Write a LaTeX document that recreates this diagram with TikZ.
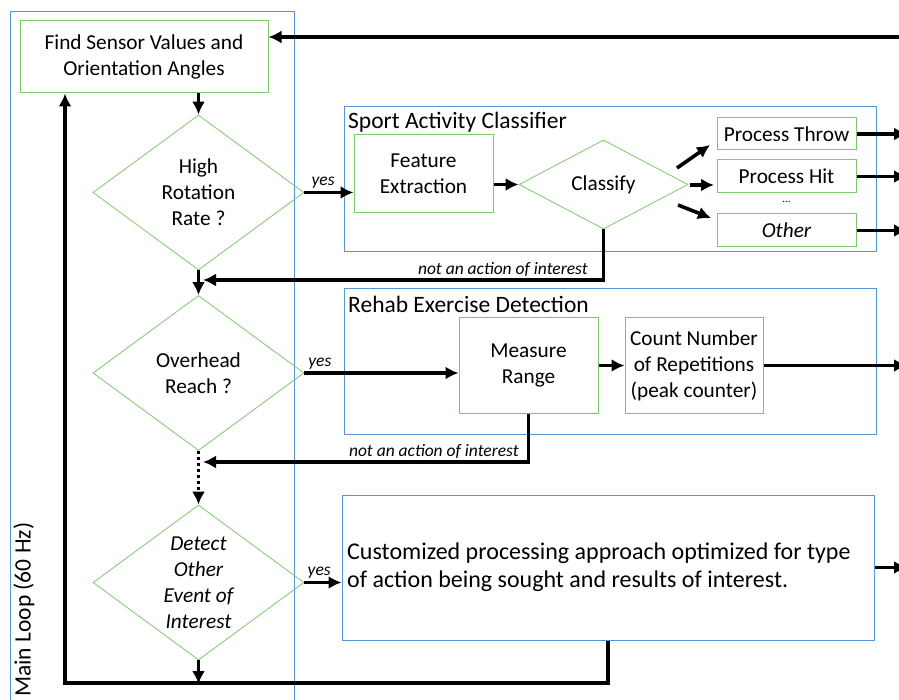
\documentclass[tikz,border=0pt]{standalone}
\usepackage{fontspec}
\setmainfont{Carlito}
\usetikzlibrary{shapes.geometric, positioning}
\usetikzlibrary{calc,arrows.meta}
\definecolor{boxgreen}{RGB}{125,200,110}
\definecolor{boxblue}{RGB}{85,150,215}

\begin{document}
\begin{tikzpicture}
	[   x=1pt,y=-1pt,
	    gnode/.style={draw=boxgreen,line width=1pt,fill=white,align=center,inner sep=0pt,
	                  minimum width=139pt,font=\fontsize{21.3}{26}\selectfont},
	    dnode/.style={diamond,draw=boxgreen,line width=0.8pt,align=center,inner sep=0pt,
	                  minimum width=211pt,minimum height=155pt,font=\fontsize{21.3}{26}\selectfont},
	    frame/.style={draw=boxblue,line width=1pt},
	    title/.style={anchor=west,inner sep=0pt,font=\fontsize{23.5}{28}\selectfont},
	    note/.style={font=\fontsize{17.5}{20}\selectfont\itshape,inner sep=2pt},
	]
	\tikzset{normal arrow/.style={draw,line width=3.6pt,-{Latex[length=13pt,width=13pt]}}}
	\useasboundingbox (0,0) rectangle (899,700);
	
	% main loop
	\draw[frame] (10,12) rectangle (294,720);
	\node[rotate=90,anchor=west,inner sep=0pt,font=\fontsize{23.5}{28}\selectfont] (ml) at (24,697) {Main Loop (60 Hz)};
	\node[gnode,minimum width=248pt,minimum height=72pt] (fs) at (144,57) {Find Sensor Values and\\Orientation Angles};
	\node[dnode] (d-1) at (198.5,192.5) {High\\Rotation\\Rate ?};
	\node[dnode] (d-2) at (198.5,373) {Overhead\\Reach ?};
	\node[dnode,label={[align=center,font=\fontsize{21.3}{26}\selectfont\itshape]center:Detect\\Other\\Event of\\Interest}] (d-3) at (198.5,582.5) {};
	
	% sport activity classifier
	\node[frame,minimum width=532pt,minimum height=145pt] (sp) at (610,179.5) {};
	\node[title] (sp-t) at (348,122) {Sport Activity Classifier};
	\node[gnode,minimum height=78pt] (fe) at (423.5,174) {Feature\\Extraction};
	\node[dnode,minimum width=169pt,minimum height=89pt] (cl) at (603.5,184.5) {Classify};
	\node[gnode,minimum height=32pt] (pt) at (786.5,134) {Process Throw};
	\node[gnode,minimum height=33pt] (ph) at (786.5,176.5) {Process Hit};
	\node[inner sep=0pt,font=\fontsize{11}{12}\selectfont] (dots) at (786.5,202) {...};
	\node[gnode,minimum height=33pt,font=\fontsize{21.3}{26}\selectfont\itshape] (po) at (786.5,230.5) {Other};
	
	% rehab exercise detection
	\node[frame,minimum width=532pt,minimum height=145pt] (rh) at (610,361.5) {};
	\node[title] (rh-t) at (348,304) {Rehab Exercise Detection};
	\node[gnode,minimum height=95pt] (me) at (528.5,365.5) {Measure\\Range};
	\node[gnode,minimum width=138pt,minimum height=95pt] (co) at (694,365.5) {Count Number\\of Repetitions\\(peak counter)};
	
	% other events
	\node[frame,minimum width=532pt,minimum height=145pt] (cu) at (608,567.5) {};
	\node[anchor=west,inner sep=0pt,align=left,font=\fontsize{24}{28}\selectfont] (cu-t) at (347,567.5)
	      {Customized processing approach optimized for type\\of action being sought and results of interest.};
	
	% free ends
	\coordinate (out) at (907,0);
	\coordinate (in) at (905,37);
	\coordinate (j-1) at (203,280);
	\coordinate (j-2) at (203,462);
	\coordinate (j-3) at (198.5,684);
	\coordinate (lc) at (65,683);
	\coordinate (b-1) at (677,168);
	\coordinate (e-1) at (710,145);
	\coordinate (b-2) at (690,185);
	\coordinate (e-2) at (714,185);
	\coordinate (b-3) at (678,205);
	\coordinate (e-3) at (711,218);
	
	% connectors
	\path[normal arrow] (in) -- (fs.east |- in);
	\path[normal arrow] (fs.south -| d-1.north) -- (d-1.north);
	\path[normal arrow] (d-1.east) -- node[note,above,pos=0.38] {yes} (d-1.east -| fe.west);
	\path[normal arrow] (cl.west -| fe.east) -- (cl.west);
	\foreach \x in {1,...,3}
		\path[normal arrow] (b-\x) -- (e-\x);
	\foreach \b in {pt,ph,po}
		\path[normal arrow] (\b.east) -- (\b.east -| out);
	\path[normal arrow] (cl.south) |- node[note,pos=0.5,anchor=south east,xshift=-12pt] {not an action of interest} (j-1);
	\path[normal arrow] (d-1.south) -- (d-2.north);
	\path[normal arrow] (d-2.east) -- node[note,above,pos=0.1] {yes} (d-2.east -| me.west);
	\path[normal arrow] (me.east) -- (co.west);
	\path[normal arrow] (co.east) -- (co.east -| out);
	\path[normal arrow] (me.south) |- node[note,pos=0.5,anchor=south east,xshift=-6pt] {not an action of interest} (j-2);
	\path[normal arrow,dash pattern=on 3.5pt off 2.5pt] (d-2.south) -- (d-3.north);
	\path[normal arrow] (d-3.east) -- node[note,above,pos=0.4] {yes} (d-3.east -| cu.west);
	\path[normal arrow] (cu.east) -- (cu.east -| out);
	\path[normal arrow] (d-3.south) -- (j-3);
	\path[normal arrow] (cu.south) |- (lc) -- (lc |- fs.south);
\end{tikzpicture}
\end{document}
